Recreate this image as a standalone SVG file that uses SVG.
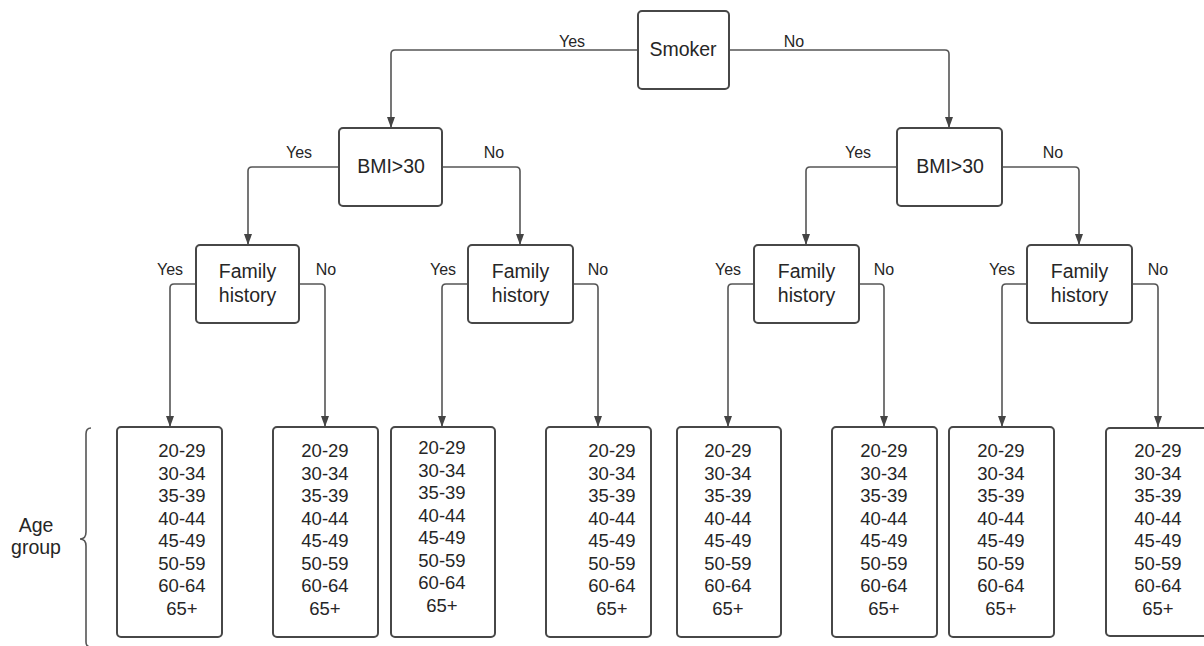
<svg xmlns="http://www.w3.org/2000/svg" width="1204" height="646" viewBox="0 0 1204 646">
<style>
.box{fill:#fff;stroke:#474747;stroke-width:2}
.t{font-family:"Liberation Sans",Arial,sans-serif;fill:#262626;text-anchor:middle}
.n{font-size:19.5px}
.l{font-size:16px}
.a{font-size:18.5px}
.c{fill:none;stroke:#555;stroke-width:1.6}
</style>
<defs>
<marker id="arr" markerUnits="userSpaceOnUse" markerWidth="11" markerHeight="8" refX="11" refY="4" orient="auto">
<path d="M0,0 L11,4 L0,8 z" fill="#444"/>
</marker>
</defs>
<rect width="1204" height="646" fill="#fff"/>
<g id="connectors">
<path class="c" marker-end="url(#arr)" d="M638 50 H395 Q391 50 391 54 V128"/>
<path class="c" marker-end="url(#arr)" d="M729 50 H945 Q949 50 949 54 V128"/>
<path class="c" marker-end="url(#arr)" d="M339 167 H252 Q248 167 248 171 V245"/>
<path class="c" marker-end="url(#arr)" d="M442 167 H516 Q520 167 520 171 V245"/>
<path class="c" marker-end="url(#arr)" d="M897 167 H810 Q806 167 806 171 V245"/>
<path class="c" marker-end="url(#arr)" d="M1002 167 H1075 Q1079 167 1079 171 V245"/>
<path class="c" marker-end="url(#arr)" d="M196 284 H174 Q170 284 170 288 V427"/>
<path class="c" marker-end="url(#arr)" d="M299 284 H321 Q325 284 325 288 V427"/>
<path class="c" marker-end="url(#arr)" d="M468 284 H446 Q442 284 442 288 V427"/>
<path class="c" marker-end="url(#arr)" d="M573 284 H594 Q598 284 598 288 V427"/>
<path class="c" marker-end="url(#arr)" d="M754 284 H732 Q728 284 728 288 V427"/>
<path class="c" marker-end="url(#arr)" d="M859 284 H880 Q884 284 884 288 V427"/>
<path class="c" marker-end="url(#arr)" d="M1027 284 H1006 Q1002 284 1002 288 V427"/>
<path class="c" marker-end="url(#arr)" d="M1132 284 H1154 Q1158 284 1158 288 V427"/>
<text class="t l" x="572" y="47">Yes</text>
<text class="t l" x="794" y="47">No</text>
<text class="t l" x="299" y="158">Yes</text>
<text class="t l" x="494" y="158">No</text>
<text class="t l" x="858" y="158">Yes</text>
<text class="t l" x="1053" y="158">No</text>
<text class="t l" x="170" y="275">Yes</text>
<text class="t l" x="326" y="275">No</text>
<text class="t l" x="443" y="275">Yes</text>
<text class="t l" x="598" y="275">No</text>
<text class="t l" x="728" y="275">Yes</text>
<text class="t l" x="884" y="275">No</text>
<text class="t l" x="1002" y="275">Yes</text>
<text class="t l" x="1158" y="275">No</text>
</g>
<g id="smoker">
<rect class="box" x="638" y="11" width="91" height="78" rx="4"/>
<text class="t n" x="683" y="56">Smoker</text>
</g>
<g id="bmi-left">
<rect class="box" x="339" y="128" width="103" height="78" rx="4"/>
<text class="t n" x="391" y="173">BMI&gt;30</text>
</g>
<g id="bmi-right">
<rect class="box" x="897" y="128" width="105" height="78" rx="4"/>
<text class="t n" x="950" y="173">BMI&gt;30</text>
</g>
<g id="family-1">
<rect class="box" x="196" y="245" width="103" height="78" rx="4"/>
<text class="t n" x="247.5" y="278">Family</text>
<text class="t n" x="247.5" y="302">history</text>
</g>
<g id="family-2">
<rect class="box" x="468" y="245" width="105" height="78" rx="4"/>
<text class="t n" x="520.5" y="278">Family</text>
<text class="t n" x="520.5" y="302">history</text>
</g>
<g id="family-3">
<rect class="box" x="754" y="245" width="105" height="78" rx="4"/>
<text class="t n" x="806.5" y="278">Family</text>
<text class="t n" x="806.5" y="302">history</text>
</g>
<g id="family-4">
<rect class="box" x="1027" y="245" width="105" height="78" rx="4"/>
<text class="t n" x="1079.5" y="278">Family</text>
<text class="t n" x="1079.5" y="302">history</text>
</g>
<g id="leaf-1">
<rect class="box" x="117" y="427" width="105" height="210" rx="4"/>
<text class="t a" x="182" y="457"><tspan x="182">20-29</tspan><tspan x="182" dy="22.5">30-34</tspan><tspan x="182" dy="22.5">35-39</tspan><tspan x="182" dy="22.5">40-44</tspan><tspan x="182" dy="22.5">45-49</tspan><tspan x="182" dy="22.5">50-59</tspan><tspan x="182" dy="22.5">60-64</tspan><tspan x="182" dy="22.5">65+</tspan></text>
</g>
<g id="leaf-2">
<rect class="box" x="273" y="427" width="105" height="210" rx="4"/>
<text class="t a" x="325" y="457"><tspan x="325">20-29</tspan><tspan x="325" dy="22.5">30-34</tspan><tspan x="325" dy="22.5">35-39</tspan><tspan x="325" dy="22.5">40-44</tspan><tspan x="325" dy="22.5">45-49</tspan><tspan x="325" dy="22.5">50-59</tspan><tspan x="325" dy="22.5">60-64</tspan><tspan x="325" dy="22.5">65+</tspan></text>
</g>
<g id="leaf-3">
<rect class="box" x="391" y="427" width="104" height="210" rx="4"/>
<text class="t a" x="442" y="454"><tspan x="442">20-29</tspan><tspan x="442" dy="22.5">30-34</tspan><tspan x="442" dy="22.5">35-39</tspan><tspan x="442" dy="22.5">40-44</tspan><tspan x="442" dy="22.5">45-49</tspan><tspan x="442" dy="22.5">50-59</tspan><tspan x="442" dy="22.5">60-64</tspan><tspan x="442" dy="22.5">65+</tspan></text>
</g>
<g id="leaf-4">
<rect class="box" x="546" y="427" width="105" height="210" rx="4"/>
<text class="t a" x="612" y="457"><tspan x="612">20-29</tspan><tspan x="612" dy="22.5">30-34</tspan><tspan x="612" dy="22.5">35-39</tspan><tspan x="612" dy="22.5">40-44</tspan><tspan x="612" dy="22.5">45-49</tspan><tspan x="612" dy="22.5">50-59</tspan><tspan x="612" dy="22.5">60-64</tspan><tspan x="612" dy="22.5">65+</tspan></text>
</g>
<g id="leaf-5">
<rect class="box" x="677" y="427" width="104" height="210" rx="4"/>
<text class="t a" x="728" y="457"><tspan x="728">20-29</tspan><tspan x="728" dy="22.5">30-34</tspan><tspan x="728" dy="22.5">35-39</tspan><tspan x="728" dy="22.5">40-44</tspan><tspan x="728" dy="22.5">45-49</tspan><tspan x="728" dy="22.5">50-59</tspan><tspan x="728" dy="22.5">60-64</tspan><tspan x="728" dy="22.5">65+</tspan></text>
</g>
<g id="leaf-6">
<rect class="box" x="832" y="427" width="105" height="210" rx="4"/>
<text class="t a" x="884" y="457"><tspan x="884">20-29</tspan><tspan x="884" dy="22.5">30-34</tspan><tspan x="884" dy="22.5">35-39</tspan><tspan x="884" dy="22.5">40-44</tspan><tspan x="884" dy="22.5">45-49</tspan><tspan x="884" dy="22.5">50-59</tspan><tspan x="884" dy="22.5">60-64</tspan><tspan x="884" dy="22.5">65+</tspan></text>
</g>
<g id="leaf-7">
<rect class="box" x="949" y="427" width="105" height="210" rx="4"/>
<text class="t a" x="1001" y="457"><tspan x="1001">20-29</tspan><tspan x="1001" dy="22.5">30-34</tspan><tspan x="1001" dy="22.5">35-39</tspan><tspan x="1001" dy="22.5">40-44</tspan><tspan x="1001" dy="22.5">45-49</tspan><tspan x="1001" dy="22.5">50-59</tspan><tspan x="1001" dy="22.5">60-64</tspan><tspan x="1001" dy="22.5">65+</tspan></text>
</g>
<g id="leaf-8">
<rect class="box" x="1106" y="428" width="105" height="208" rx="4"/>
<text class="t a" x="1158" y="457"><tspan x="1158">20-29</tspan><tspan x="1158" dy="22.5">30-34</tspan><tspan x="1158" dy="22.5">35-39</tspan><tspan x="1158" dy="22.5">40-44</tspan><tspan x="1158" dy="22.5">45-49</tspan><tspan x="1158" dy="22.5">50-59</tspan><tspan x="1158" dy="22.5">60-64</tspan><tspan x="1158" dy="22.5">65+</tspan></text>
</g>
<g id="age-group">
<path d="M91 428 Q86 428 86 434 L86 532 Q86 539 80 539 Q86 539 86 546 L86 642 Q86 647 91 647" fill="none" stroke="#555" stroke-width="1.6"/>
<text class="t n" x="36" y="532">Age</text>
<text class="t n" x="36" y="554">group</text>
</g>
</svg>
